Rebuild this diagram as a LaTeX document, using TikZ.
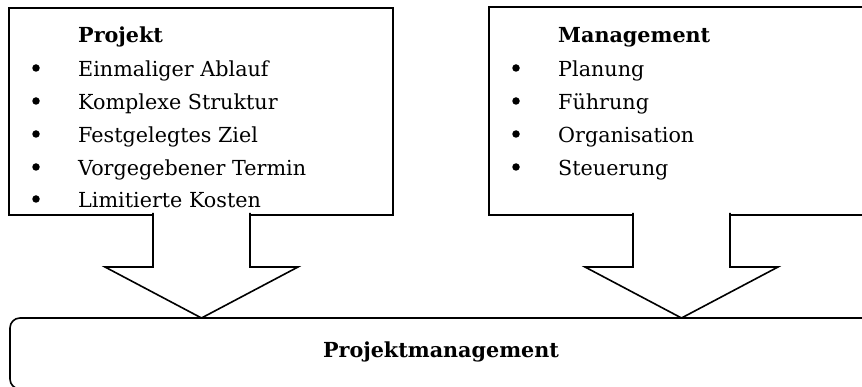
\documentclass[tikz,border=0pt]{standalone}
\usepackage{fontspec}
\setmainfont{DejaVu Serif}
\begin{document}
\begin{tikzpicture}[x=1pt,y=-1pt,
  box/.style={draw, line width=1.6pt, fill=white, inner sep=0pt},
  arrowshape/.style={draw, line width=1.6pt, fill=white, line join=miter},
  item/.style={anchor=base west, inner sep=0pt, font=\fontsize{20.7}{24}\selectfont},
  headtext/.style={anchor=base west, inner sep=0pt, font=\fontsize{20.7}{24}\selectfont\bfseries},
  bul/.style={circle, fill, inner sep=0pt, minimum size=7.5pt}]
\useasboundingbox (0,0) rectangle (862,387);
\clip (0,0) rectangle (862,387);
% boxes
\node[box, minimum width=384pt, minimum height=207pt] (projbox) at (201,111.5) {};
\node[box, minimum width=384pt, minimum height=208pt] (mgmtbox) at (681,111) {};
\node[box, rounded corners=10pt, minimum width=862pt, minimum height=71pt] (pmbox) at (441,353.5) {};
% arrows
\path[arrowshape] (153,213) -- (153,267) -- (105,267) -- (201.5,318) -- (298,267) -- (250,267) -- (250,213);
\path[arrowshape] (633,213) -- (633,267) -- (585,267) -- (681.5,318) -- (778,267) -- (730,267) -- (730,213);
% left texts
\node[headtext] (ph) at (78,43) {Projekt};
\node[bul] (pb1) at (36,68) {};
\node[item] (p1) at (78,77) {Einmaliger Ablauf};
\node[bul] (pb2) at (36,101) {};
\node[item] (p2) at (78,110) {Komplexe Struktur};
\node[bul] (pb3) at (36,134) {};
\node[item] (p3) at (78,143) {Festgelegtes Ziel};
\node[bul] (pb4) at (36,167) {};
\node[item] (p4) at (78,176) {Vorgegebener Termin};
\node[bul] (pb5) at (36,199) {};
\node[item] (p5) at (78,208) {Limitierte Kosten};
% right texts
\node[headtext] (mh) at (558,43) {Management};
\node[bul] (mb1) at (516,68) {};
\node[item] (m1) at (558,77) {Planung};
\node[bul] (mb2) at (516,101) {};
\node[item] (m2) at (558,110) {Führung};
\node[bul] (mb3) at (516,134) {};
\node[item] (m3) at (558,143) {Organisation};
\node[bul] (mb4) at (516,167) {};
\node[item] (m4) at (558,176) {Steuerung};
% bottom text
\node[anchor=base, inner sep=0pt, font=\fontsize{20.7}{24}\selectfont\bfseries] (pmtext) at (441,357) {Projektmanagement};
\end{tikzpicture}
\end{document}
